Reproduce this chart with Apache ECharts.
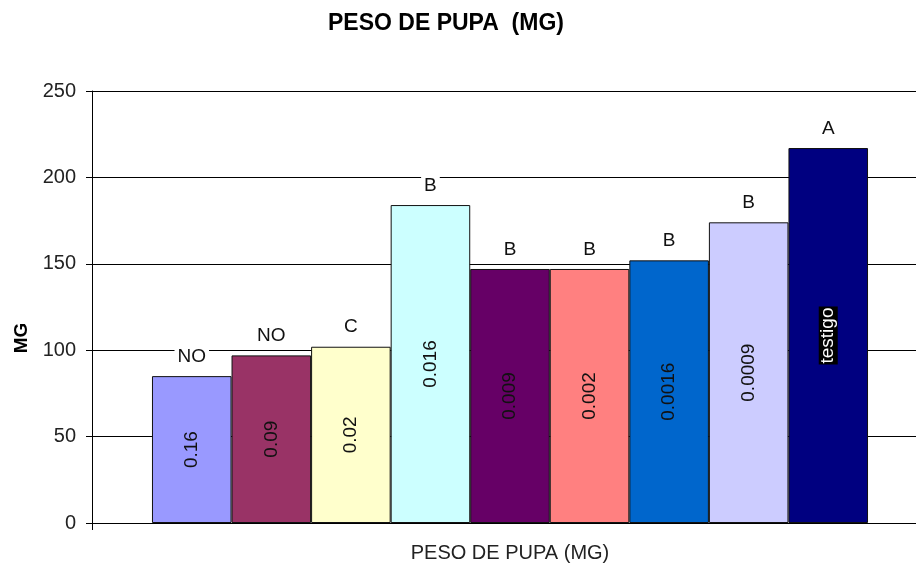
<!DOCTYPE html>
<html>
<head>
<meta charset="utf-8">
<script src="https://cdn.jsdelivr.net/npm/echarts@6/dist/echarts.min.js"></script>
<style>
  html, body { margin: 0; padding: 0; background: #fff; overflow: hidden; }
  /* plot area runs a little past the right edge, as in the cropped original */
  #chart { width: 928px; height: 565px; }
</style>
</head>
<body>
<div id="chart"></div>
<script>
// one category, one bar per dose (as in the original spreadsheet chart)
var category = ['PESO DE PUPA (MG)'];
var doses = ['0.16', '0.09', '0.02', '0.016', '0.009', '0.002', '0.0016', '0.0009', 'testigo'];
var pupaWeight = [85, 97, 102, 184, 147, 147, 152, 174, 217];
var letters = ['NO', 'NO', 'C', 'B', 'B', 'B', 'B', 'B', 'A'];
var yTicks = [0, 50, 100, 150, 200, 250];

var palette = ['#9999FF', '#993366', '#FFFFCC', '#CCFFFF', '#660066', '#FF8080', '#0066CC', '#CCCCFF', '#000080'];
var font = 'Liberation Sans, Arial, sans-serif';

var series = doses.map(function (d, i) {
    var isControl = d === 'testigo';
    return {
        type: 'bar',
        name: d,
        data: [pupaWeight[i]],
        barGap: 0,
        barCategoryGap: '14.35%',
        itemStyle: {color: palette[i], borderColor: '#111', borderWidth: 1},
        label: {
            show: true,
            position: 'inside',
            rotate: 90,
            formatter: d,
            fontFamily: font,
            fontSize: 19,
            color: isControl ? '#fff' : '#111',
            backgroundColor: isControl ? '#000' : 'transparent',
            padding: isControl ? [0, 1] : 0
        },
        markPoint: {
            symbol: 'rect',
            symbolSize: 0,
            data: [{coord: [0, pupaWeight[i]], name: letters[i]}],
            label: {
                show: true,
                position: 'top',
                distance: 9,
                formatter: letters[i],
                fontFamily: font,
                fontSize: 19,
                color: '#111',
                backgroundColor: '#fff',
                padding: [1, 3]
            }
        }
    };
});

var chart = echarts.init(document.getElementById('chart'));
chart.setOption({
    animation: false,
    backgroundColor: '#fff',
    title: {
        text: 'PESO DE PUPA  (MG)',
        left: 328,
        top: 12,
        padding: 0,
        textStyle: {fontFamily: font, fontSize: 23, fontWeight: 'bold', color: '#000'}
    },
    grid: {left: 92, right: 0, top: 91, bottom: 42},
    xAxis: {
        type: 'category',
        data: category,
        axisLine: {lineStyle: {color: '#000', width: 1}},
        axisTick: {show: true, length: 7, lineStyle: {color: '#000'}},
        axisLabel: {fontFamily: font, fontSize: 20, color: '#222', margin: 20}
    },
    yAxis: {
        type: 'value',
        min: yTicks[0],
        max: yTicks[yTicks.length - 1],
        interval: 50,
        name: 'MG',
        nameLocation: 'middle',
        nameGap: 60,
        nameRotate: 90,
        nameTextStyle: {fontFamily: font, fontSize: 19, fontWeight: 'bold', color: '#000', padding: [0, 62, 0, 0]},
        axisLine: {show: true, lineStyle: {color: '#000', width: 1}},
        axisTick: {show: true, length: 6, lineStyle: {color: '#000'}},
        axisLabel: {fontFamily: font, fontSize: 20, color: '#222', margin: 16},
        splitLine: {show: true, lineStyle: {color: '#000', width: 1}}
    },
    series: series
});
</script>
</body>
</html>
